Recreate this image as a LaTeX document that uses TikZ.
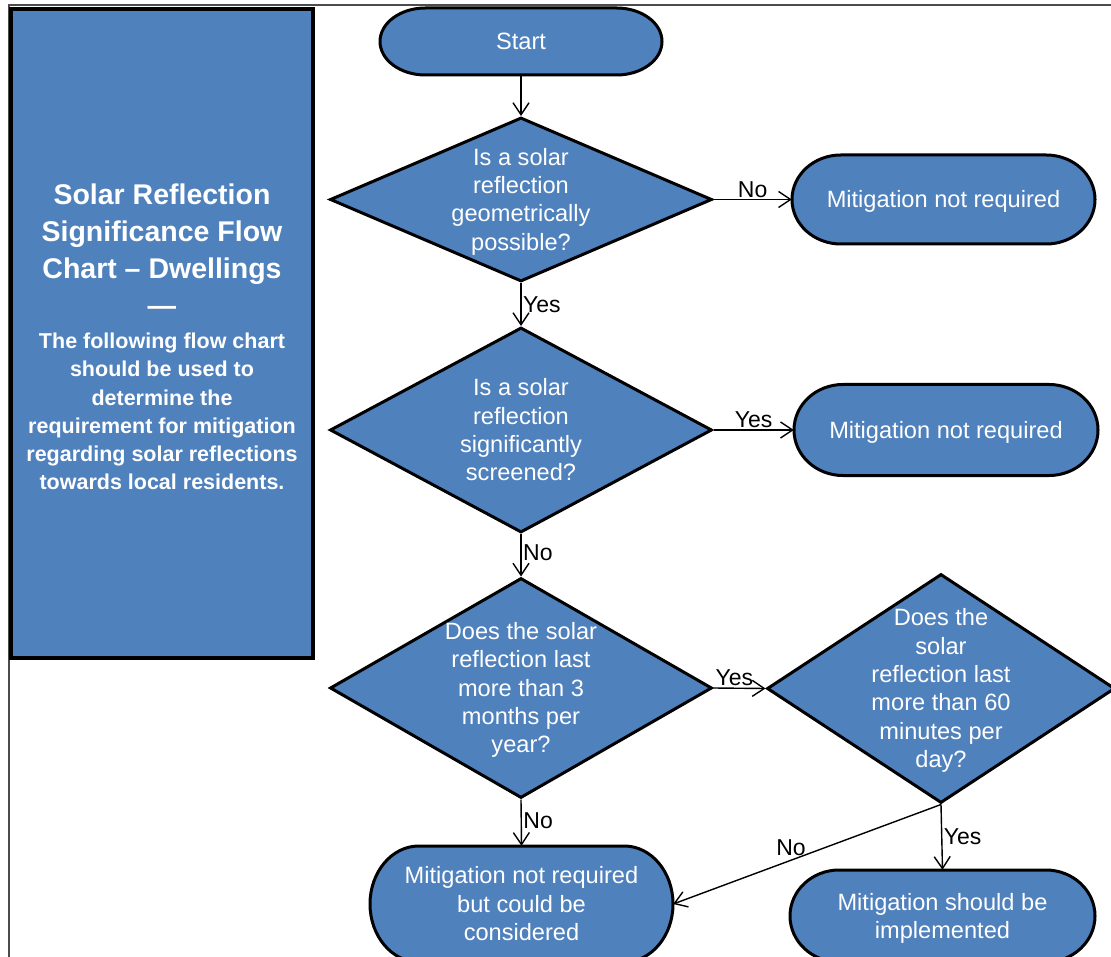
\documentclass[tikz,border=0pt]{standalone}
\usepackage{fontspec}
\setmainfont{Liberation Sans}
\usetikzlibrary{shapes.geometric,arrows.meta}
\definecolor{ofblue}{HTML}{4F81BD}
\newcommand\termbox[6]{%
  \pgfmathsetmacro\tbrx{0.161*#4}%
  \pgfmathsetmacro\tbhw{#4/2}%
  \pgfmathsetmacro\tbhh{#5/2}%
  \begin{scope}[shift={(#2,#3)}]
    \draw[termline] ({-\tbhw+\tbrx},{-\tbhh}) -- ({\tbhw-\tbrx},{-\tbhh})
      arc[start angle=90,end angle=-90,x radius=\tbrx pt,y radius=\tbhh pt]
      -- ({-\tbhw+\tbrx},{\tbhh})
      arc[start angle=270,end angle=90,x radius=\tbrx pt,y radius=\tbhh pt]
      -- cycle;
  \end{scope}
  \node[minimum width=#4pt, minimum height=#5pt, inner sep=0pt,
    label={[flow]center:{#6}}] (#1) at (#2,#3) {};
}
\begin{document}
\begin{tikzpicture}[x=1pt,y=-1pt,
  flow/.style={font=\fontsize{23.6}{28.3}\selectfont, text=white, align=center, yshift=-2.5pt},
  termline/.style={draw=black, fill=ofblue, line width=3pt},
  dia/.style={diamond, draw=black, fill=ofblue, line width=3pt, inner sep=0pt},
  lbl/.style={font=\fontsize{23}{26}\selectfont, text=black, inner sep=1.5pt},
  arr/.style={draw=black, line width=1.4pt, -{Straight Barb[length=12pt,width=16pt,line width=1.4pt]}},
  paneltitle/.style={font=\fontsize{28.5}{37}\selectfont\bfseries, text=white, align=center, inner sep=0pt},
  paneltext/.style={font=\fontsize{21.5}{28.1}\selectfont\bfseries, text=white, align=center, inner sep=0pt}
]
\useasboundingbox (0,0) rectangle (1111,957);
\clip (0,0) rectangle (1111,957);
\fill[white] (0,0) rectangle (1111,957);
% outer frame
\draw[black!70, line width=1.5pt] (9,5) rectangle (1130,980);

% left panel
\node[draw=black, fill=ofblue, line width=3.5pt, minimum width=302pt, minimum height=649pt, inner sep=0pt] (panel) at (162,333.5) {};
\node[paneltitle] (title) at (162,252.3) {\strut Solar Reflection\\\strut Significance Flow\\\strut Chart -- Dwellings\\\strut ---};
\node[paneltext] (intro) at (162,413.5) {\strut The following flow chart\\\strut should be used to\\\strut determine the\\\strut requirement for mitigation\\\strut regarding solar reflections\\\strut towards local residents.};

% terminators
\termbox{start}{521}{41.5}{282}{67}{\strut Start}
\termbox{b1}{943.5}{199.5}{303}{89}{\strut Mitigation not required}
\termbox{b2}{946}{430}{304}{91}{\strut Mitigation not required}
\termbox{b3}{521.5}{904}{303}{116}{\strut Mitigation not required\\\strut but could be\\\strut considered}
\termbox{b4}{942.5}{916}{305}{92}{\strut Mitigation should be\\\strut implemented}

% decisions
\node[dia, minimum width=382pt, minimum height=164pt,
  label={[flow]center:{\strut Is a solar\\\strut reflection\\\strut geometrically\\\strut possible?}}] (d1) at (521,199.5) {};
\node[dia, minimum width=382pt, minimum height=205pt,
  label={[flow]center:{\strut Is a solar\\\strut reflection\\\strut significantly\\\strut screened?}}] (d2) at (521,430) {};
\node[dia, minimum width=382pt, minimum height=220pt,
  label={[flow]center:{\strut Does the solar\\\strut reflection last\\\strut more than 3\\\strut months per\\\strut year?}}] (d3) at (521,688) {};
\node[dia, minimum width=348pt, minimum height=229pt,
  label={[flow]center:{\strut Does the\\\strut solar\\\strut reflection last\\\strut more than 60\\\strut minutes per\\\strut day?}}] (d4) at (941,688.5) {};

% connectors
\draw[arr] (start.south) -- (d1.north);
\draw[arr] (d1.east) -- node[lbl, above] {No} (b1.west);
\draw[arr] (d1.south) -- node[lbl, right] {Yes} (d2.north);
\draw[arr] (d2.east) -- node[lbl, above] {Yes} (b2.west);
\draw[arr] (d2.south) -- node[lbl, right, pos=0.45] {No} (d3.north);
\draw[arr] (d3.east) -- node[lbl, above, pos=0.4] {Yes} (d4.west);
\draw[arr] (d3.south) -- node[lbl, right, pos=0.45] {No} (b3.north);
\draw[arr] (d4.south) -- node[lbl, right] {Yes} (b4.north);
\draw[arr] (d4.south) -- node[lbl, above, pos=0.56, yshift=2pt] {No} (b3.east);
\end{tikzpicture}
\end{document}
